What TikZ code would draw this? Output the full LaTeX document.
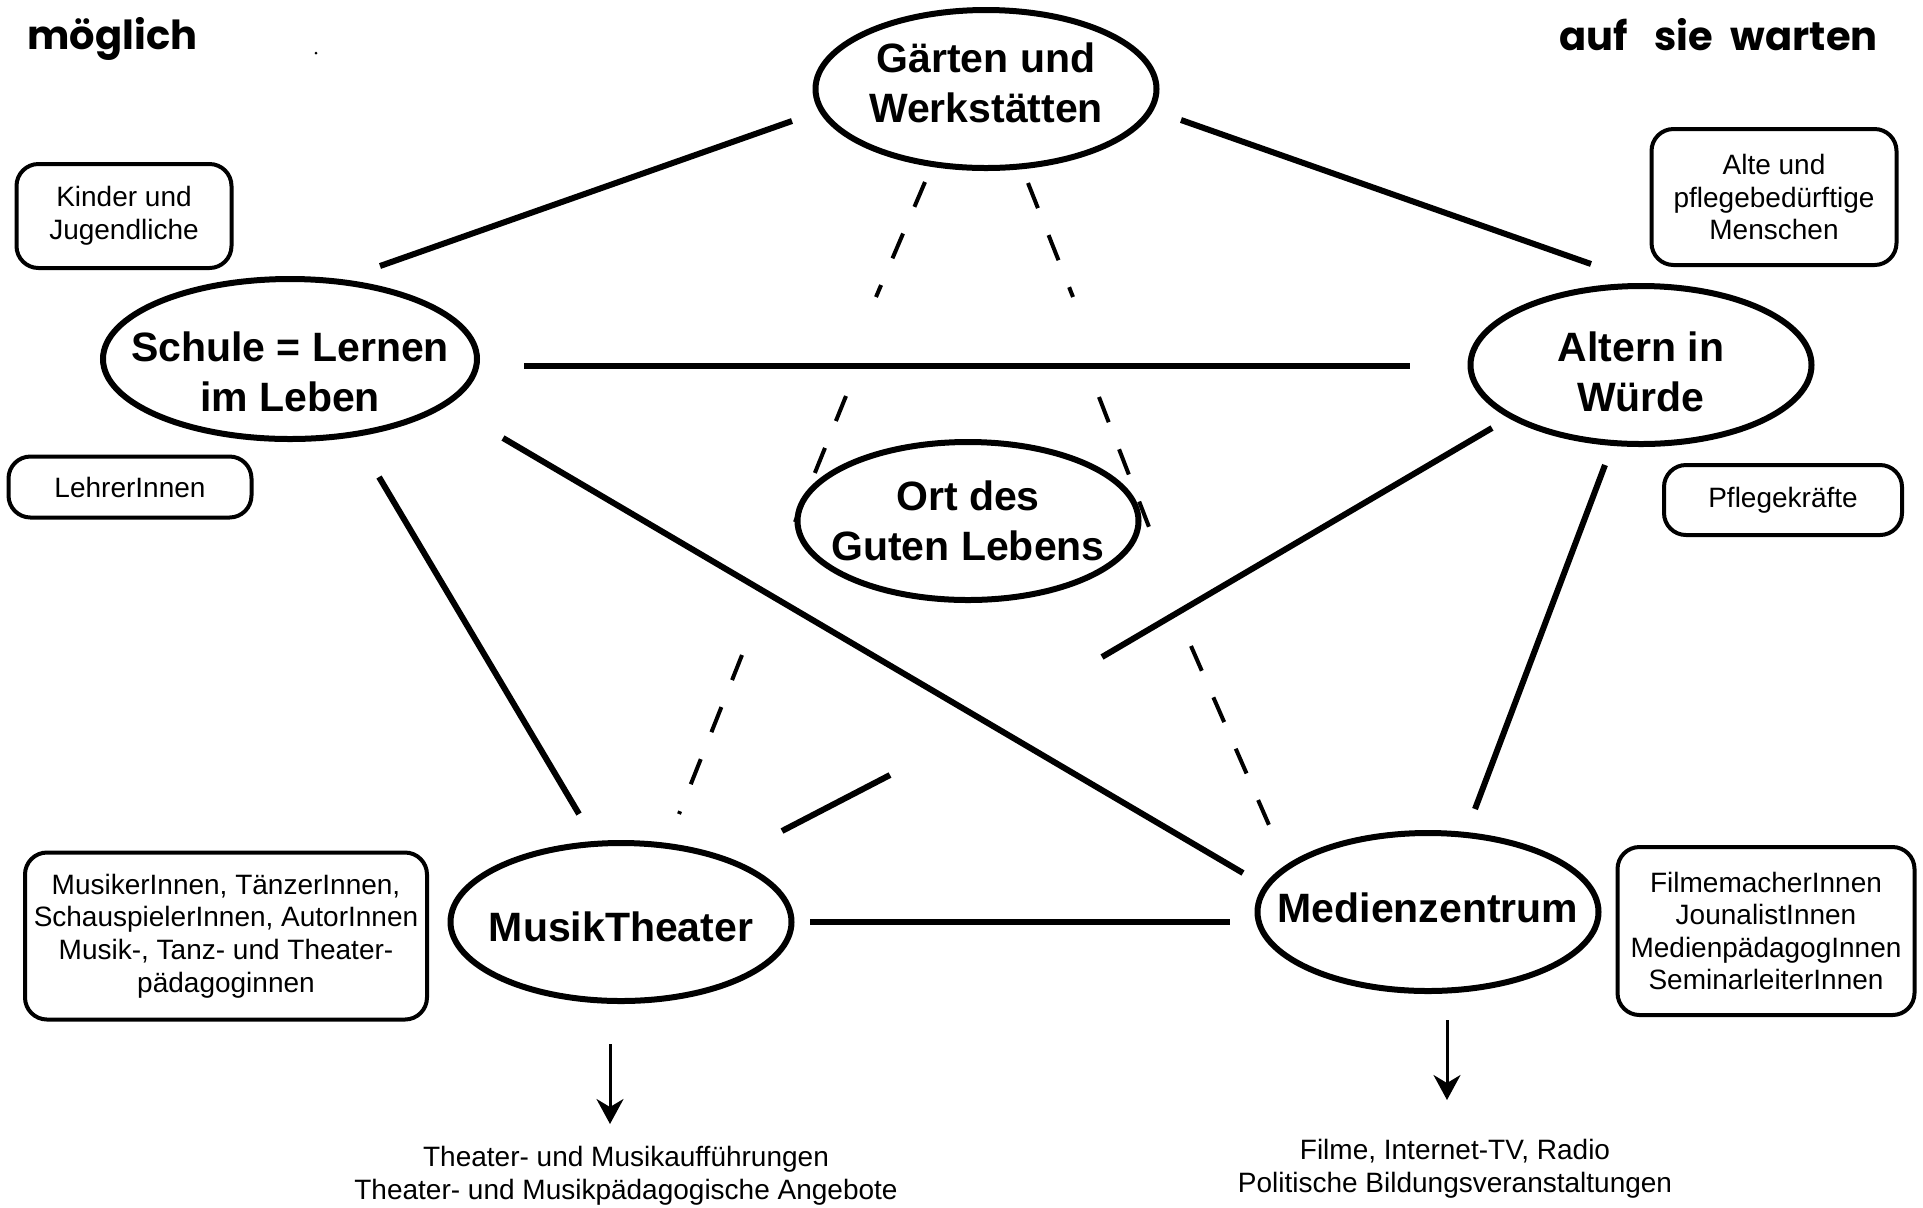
\documentclass[tikz,border=0pt]{standalone}
\usepackage{fontspec}
\setmainfont{Liberation Sans}
\newfontfamily\handfont{Poppins}
\usetikzlibrary{arrows.meta,shapes.geometric}
\begin{document}
\begin{tikzpicture}[x=0.5pt,y=-0.5pt,
  ell/.style={draw,line width=3pt,ellipse,minimum width=170.5pt,minimum height=79pt,inner sep=0pt},
  lab/.style={align=center,inner sep=0pt,font=\fontsize{20.5pt}{25pt}\selectfont\bfseries},
  box/.style={draw,line width=2pt,rounded corners=11pt,inner sep=0pt,align=center,font=\fontsize{14pt}{16.3pt}\selectfont},
  link/.style={line width=3pt},
  dlink/.style={line width=2pt,dash pattern=on 13.5pt off 14.5pt},
  arr/.style={line width=1.5pt,-{Stealth[length=12.5pt,width=13.5pt,inset=4pt]}},
  note/.style={align=center,inner sep=0pt,font=\fontsize{14pt}{16.5pt}\selectfont},
  hand/.style={inner sep=0pt,font=\handfont\bfseries\fontsize{20pt}{24pt}\selectfont}]
\fill[white] (0,0) rectangle (1923,1207);
\path[use as bounding box] (0,0) rectangle (1923,1207);

% handwritten corner labels
\node[hand,anchor=base west] (moeglich) at (27,49) {möglich};
\node[hand,anchor=base east] (warten) at (1878,50) {auf\hspace{13pt}sie\hspace{9pt}warten};
\fill (316,53) circle[radius=1.5];

% main ellipses
\node[ell,label={[lab,yshift=3pt]center:{Gärten und\\Werkstätten}}] (gaerten) at (986,89) {};
\node[ell,minimum width=187pt,minimum height=80pt,label={[lab,yshift=-6.5pt]center:{Schule = Lernen\\im Leben}}] (schule) at (290,359) {};
\node[ell,label={[lab,yshift=-3.5pt]center:{Altern in\\Würde}}] (altern) at (1641,365) {};
\node[ell,label={[lab]center:{Ort des\\Guten Lebens}}] (ort) at (968,521) {};
\node[ell,label={[lab,yshift=-2.5pt]center:{MusikTheater}}] (musik) at (621,922) {};
\node[ell,label={[lab,yshift=2pt]center:{Medienzentrum}}] (medien) at (1428,912) {};

% people boxes
\node[box,minimum width=107.5pt,minimum height=52pt] (kinder) at (124,216) {Kinder und\\Jugendliche};
\node[box,minimum width=121.5pt,minimum height=30.5pt] (lehrer) at (130,487) {LehrerInnen};
\node[box,minimum width=122.5pt,minimum height=68pt] (alte) at (1774,197) {Alte und\\pflegebedürftige\\Menschen};
\node[box,minimum width=119pt,minimum height=35pt] (pflege) at (1783,500) {Pflegekräfte};
\node[box,minimum width=201pt,minimum height=83.5pt] (musiker) at (226,936) {MusikerInnen, TänzerInnen,\\SchauspielerInnen, AutorInnen\\Musik-, Tanz- und Theater-\\pädagoginnen};
\node[box,minimum width=148.5pt,minimum height=84pt] (film) at (1766,931) {FilmemacherInnen\\JounalistInnen\\MedienpädagogInnen\\SeminarleiterInnen};

% outputs
\node[note] (mout) at (626,1176) {Theater- und Musikaufführungen\\Theater- und Musikpädagogische Angebote};
\node[note] (medout) at (1455,1169) {Filme, Internet-TV, Radio\\Politische Bildungsveranstaltungen};

% connector end points
\coordinate (gs1) at (792,121);  \coordinate (gs2) at (380,266);
\coordinate (ga1) at (1181,120); \coordinate (ga2) at (1591,264);
\coordinate (sa1) at (524,366);  \coordinate (sa2) at (1410,366);
\coordinate (sd1) at (503,438);  \coordinate (sd2) at (1243,873);
\coordinate (sm1) at (379,477);  \coordinate (sm2) at (579,814);
\coordinate (am1) at (1492,428); \coordinate (am2) at (1102,657);
\coordinate (am3) at (890,775);  \coordinate (am4) at (782,831);
\coordinate (ad1) at (1605,465); \coordinate (ad2) at (1475,809);
\coordinate (md1) at (810,922);  \coordinate (md2) at (1230,922);
\coordinate (go1) at (925,182);  \coordinate (go2) at (876,297);
\coordinate (go3) at (846,396);  \coordinate (go4) at (795,522);
\coordinate (gr1) at (1028,183); \coordinate (gr2) at (1073,297);
\coordinate (gr3) at (1099,397); \coordinate (gr4) at (1149,527);
\coordinate (om1) at (742,655);  \coordinate (om2) at (679,814);
\coordinate (od1) at (1191,646); \coordinate (od2) at (1269,825);
\coordinate (ma1) at (610,1044); \coordinate (ma2) at (610,1124);
\coordinate (da1) at (1447,1020); \coordinate (da2) at (1447,1100);

% solid connectors
\draw[link] (gs1) -- (gs2);
\draw[link] (ga1) -- (ga2);
\draw[link] (sa1) -- (sa2);
\draw[link] (sd1) -- (sd2);
\draw[link] (sm1) -- (sm2);
\draw[link] (am1) -- (am2);
\draw[link] (am3) -- (am4);
\draw[link] (ad1) -- (ad2);
\draw[link] (md1) -- (md2);

% dashed connectors
\draw[dlink] (go1) -- (go2);
\draw[dlink] (go3) -- (go4);
\draw[dlink] (gr1) -- (gr2);
\draw[dlink] (gr3) -- (gr4);
\draw[dlink] (om1) -- (om2);
\draw[dlink] (od1) -- (od2);

% output arrows
\draw[arr] (ma1) -- (ma2);
\draw[arr] (da1) -- (da2);
\end{tikzpicture}
\end{document}
